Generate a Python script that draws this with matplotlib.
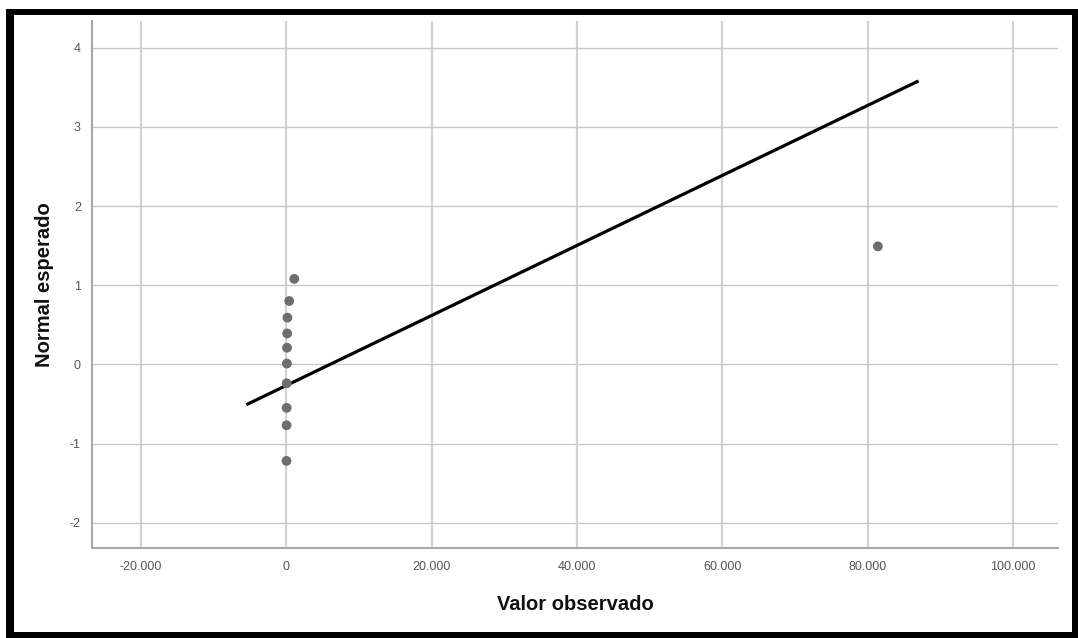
import matplotlib
matplotlib.use("Agg")
import matplotlib.pyplot as plt
from matplotlib.patches import Rectangle
from matplotlib.ticker import FuncFormatter, FixedLocator

plt.rcParams['font.family'] = ['Liberation Sans', 'DejaVu Sans']

# Data
observed = [1100, 400, 150, 120, 100, 80, 60, 50, 40, 30, 81400]
expected = [1.08, 0.80, 0.59, 0.39, 0.21, 0.01, -0.24, -0.55, -0.77, -1.22, 1.49]
line_x = [-5500, 87000]
line_y = [-0.51, 3.58]
x_ticks = [-20000, 0, 20000, 40000, 60000, 80000, 100000]
y_ticks = [-2, -1, 0, 1, 2, 3, 4]
x_label = "Valor observado"
y_label = "Normal esperado"

W, H = 1078, 638
fig = plt.figure(figsize=(W / 100, H / 100), dpi=100)
fig.patch.set_facecolor('white')

def fx(px):
    return px / W

def fy(py):
    return 1 - py / H

ax = fig.add_axes([fx(92), fy(548), fx(1058) - fx(92), fy(21) - fy(548)])
ax.set_xlim(-26735, 106186)
ax.set_ylim(-2.32, 4.337)

ax.xaxis.set_major_locator(FixedLocator(x_ticks))
ax.yaxis.set_major_locator(FixedLocator(y_ticks))
ax.xaxis.set_major_formatter(FuncFormatter(lambda v, p: f"{int(v):,}".replace(",", ".")))
ax.yaxis.set_major_formatter(FuncFormatter(lambda v, p: f"{int(v)}"))

ax.grid(True, axis='y', color='#c8c8c8', linewidth=1.0, zorder=0)
ax.grid(True, axis='x', color='#d2d2d2', linewidth=1.6, zorder=0)
ax.set_axisbelow(True)

for s in ['top', 'right']:
    ax.spines[s].set_visible(False)
for s in ['left', 'bottom']:
    ax.spines[s].set_color('#a8a8a8')
    ax.spines[s].set_linewidth(1.5)

ax.tick_params(axis='both', length=0, labelsize=9, labelcolor='#555555')
ax.tick_params(axis='x', pad=9)
ax.tick_params(axis='y', pad=8)

ax.plot(line_x, line_y, color='black', linewidth=2.3, solid_capstyle='butt', zorder=3)
ax.scatter(observed, expected, s=50, color='#6e6e6e', edgecolors='none', zorder=4)

ax.set_xlabel(x_label, fontsize=14.5, fontweight='bold', color='#111111')
ax.set_ylabel(y_label, fontsize=14.5, fontweight='bold', color='#111111')
ax.xaxis.label.set_va('center')
ax.yaxis.label.set_va('center')
ax.xaxis.set_label_coords(0.5, (548 - 605) / 527)
ax.yaxis.set_label_coords((45 - 92) / 966, 0.5)

# black frame around the chart (pixel boxes x0, y0, x1, y1)
frame = [
    (6, 9, 14, 638),      # left
    (1072, 9, 1078, 638), # right
    (6, 9, 1078, 15),     # top
    (6, 632, 1078, 638),  # bottom
]
for x0, y0, x1, y1 in frame:
    fig.add_artist(Rectangle((fx(x0), fy(y1)), fx(x1) - fx(x0), fy(y0) - fy(y1),
                             transform=fig.transFigure, facecolor='black',
                             edgecolor='none', zorder=10))

fig.savefig("out.png", dpi=100)
